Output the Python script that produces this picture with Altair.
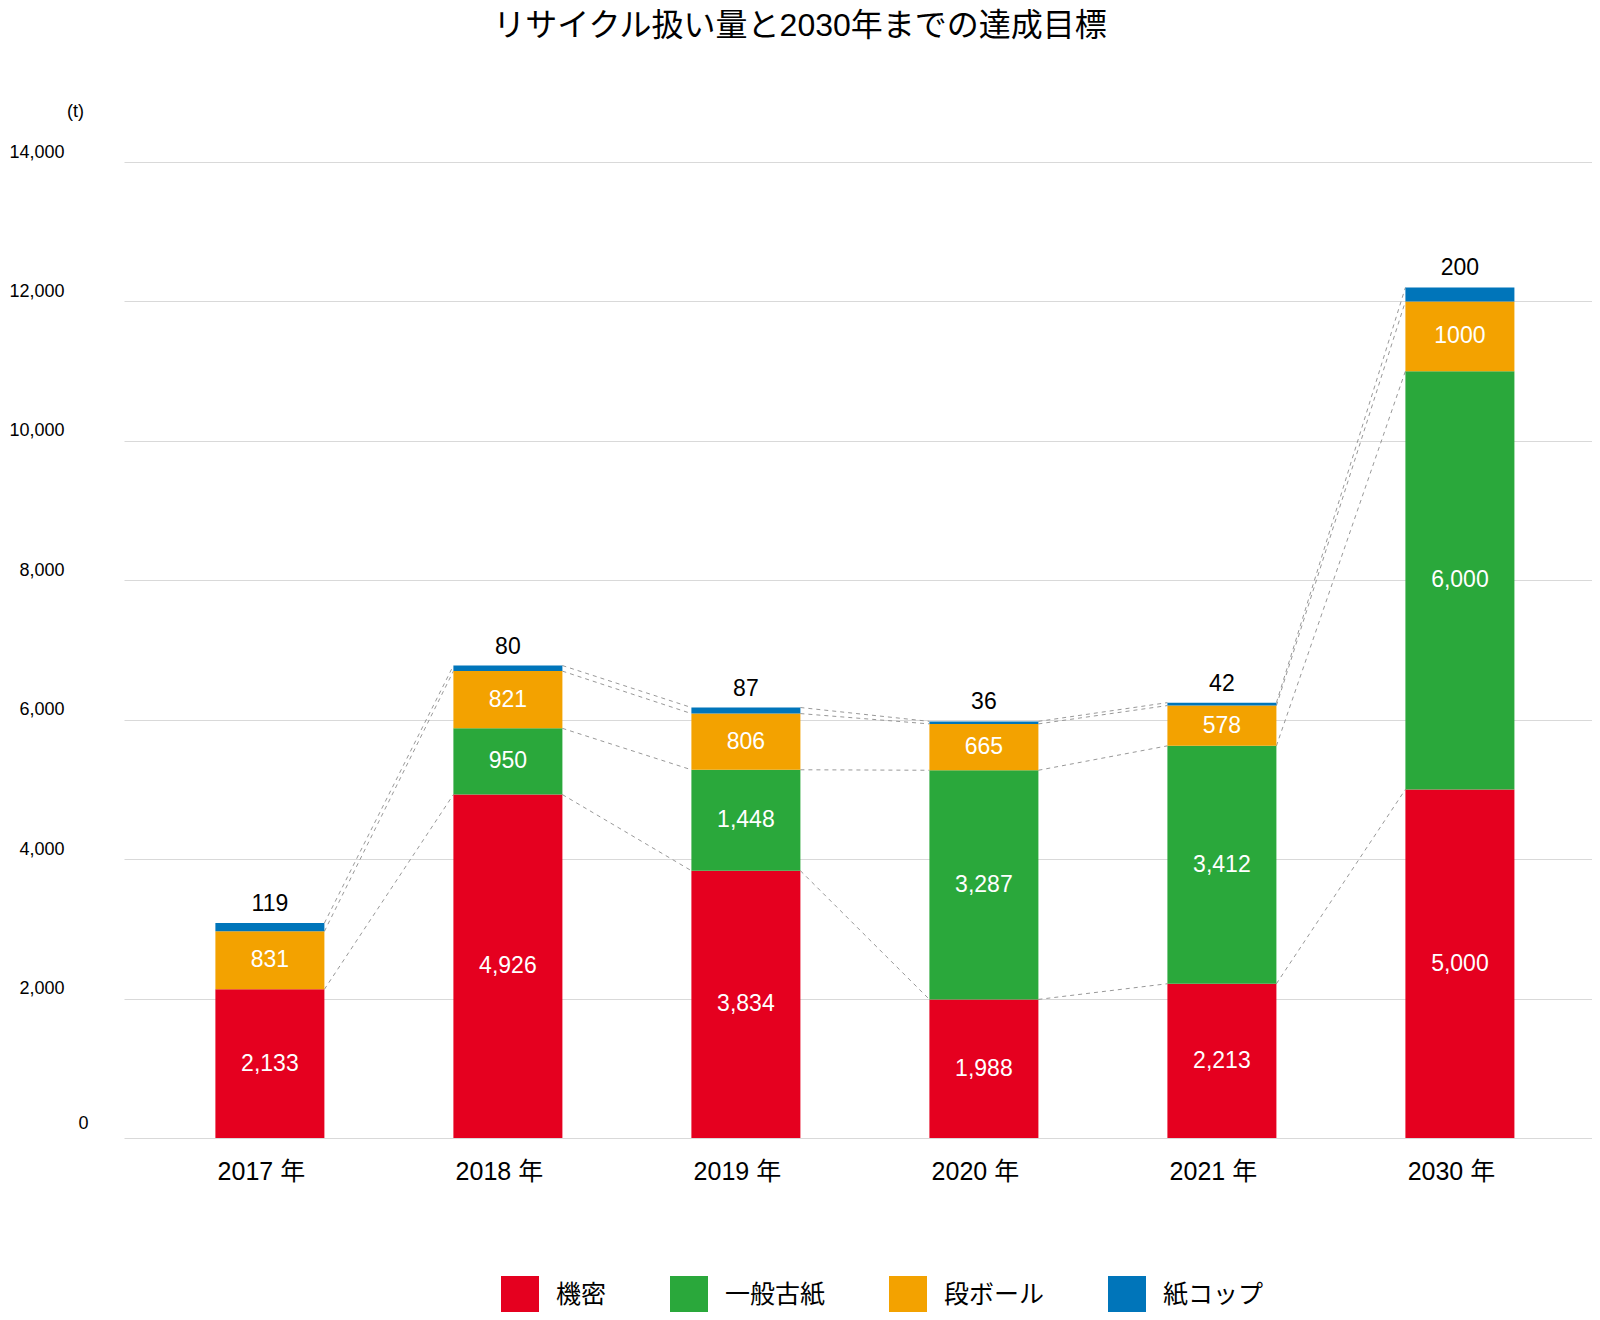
import altair as alt
import pandas as pd

# ---- data ----
years = ["2017 年", "2018 年", "2019 年", "2020 年", "2021 年", "2030 年"]
series = ["機密", "一般古紙", "段ボール", "紙コップ"]
colors = ["#e5001f", "#2aa83b", "#f3a200", "#0075ba"]
kimitsu = [2133, 4926, 3834, 1988, 2213, 5000]
ippan = [0, 950, 1448, 3287, 3412, 6000]
danball = [831, 821, 806, 665, 578, 1000]
cup = [119, 80, 87, 36, 42, 200]
y_ticks = [0, 2000, 4000, 6000, 8000, 10000, 12000, 14000]
label_override = {("2030 年", "段ボール"): "1000"}

FONT = "'Liberation Sans', 'Noto Sans CJK JP', sans-serif"
HW = 0.229  # half bar width in category units

values = [kimitsu, ippan, danball, cup]
rows = []
for i, yr in enumerate(years):
    lo = 0
    for s, vals in zip(series, values):
        v = vals[i]
        rows.append(dict(year=yr, pos=i, series=s, lo=lo, hi=lo + v, mid=lo + v / 2,
                         value=v, text=label_override.get((yr, s), f"{v:,}"),
                         x0=i - HW, x1=i + HW))
        lo += v
seg = pd.DataFrame(rows)
bars_df = seg[seg.value > 0]
inside_df = bars_df[bars_df.series != "紙コップ"]
top_df = bars_df[bars_df.series == "紙コップ"]

links = []
for i in range(len(years) - 1):
    for s in series:
        a = seg[(seg.pos == i) & (seg.series == s)].iloc[0]
        b = seg[(seg.pos == i + 1) & (seg.series == s)].iloc[0]
        if a.value > 0 and b.value > 0:
            links.append(dict(x0=i + HW, x1=i + 1 - HW, lo=a.hi, hi=b.hi))
links_df = pd.DataFrame(links)

xscale = alt.Scale(domain=[-0.613, 5.555], nice=False, zero=False)
yscale = alt.Scale(domain=[0, 14000], nice=False)
label_expr = "[" + ",".join(f"'{y}'" for y in years) + "][datum.value]"

xaxis = alt.Axis(values=list(range(len(years))), labelExpr=label_expr, grid=False,
                 domain=False, ticks=False, labelFontSize=25, labelPadding=21,
                 labelOffset=-9, labelFont=FONT, labelColor="black")
yaxis = alt.Axis(values=y_ticks, format=",d", domain=False, ticks=False,
                 gridColor="#d9d9d9", gridWidth=1, labelFontSize=18,
                 labelPadding={"condition": {"test": "datum.value == 0", "value": 36}, "value": 60},
                 labelOffset={"condition": {"test": "datum.value == 0", "value": -15}, "value": -10},
                 labelFont=FONT, labelColor="black",
                 titleAngle=0, titleX=-49, titleY=-51, titleFontSize=18,
                 titleFontWeight="normal", titleFont=FONT, titleAlign="center",
                 titleBaseline="middle", titleColor="black")


def X(field):
    return alt.X(field, scale=xscale, axis=xaxis, title="")


def Y(field):
    return alt.Y(field, scale=yscale, axis=yaxis, title="(t)")


bars = alt.Chart(bars_df).mark_bar(strokeWidth=0).encode(
    x=X("x0:Q"),
    x2="x1:Q",
    y=Y("lo:Q"),
    y2="hi:Q",
    color=alt.Color("series:N", scale=alt.Scale(domain=series, range=colors), title=None,
                    legend=alt.Legend(orient="none", legendX=377, legendY=1114,
                                      direction="horizontal", symbolType="square",
                                      symbolSize=1444, symbolStrokeWidth=0, symbolOpacity=1,
                                      labelFontSize=25, labelOffset=17, columnPadding=63,
                                      labelFont=FONT, labelColor="black")),
)

rules = alt.Chart(links_df).mark_rule(color="#8c8c8c", strokeWidth=0.9, strokeDash=[4, 4]).encode(
    x=X("x0:Q"),
    x2="x1:Q",
    y=Y("lo:Q"),
    y2="hi:Q",
)

inside = alt.Chart(inside_df).mark_text(color="white", fontSize=23, font=FONT,
                                        baseline="middle", align="center").encode(
    x=X("pos:Q"),
    y=Y("mid:Q"),
    text="text:N",
)

top = alt.Chart(top_df).mark_text(color="black", fontSize=23, font=FONT,
                                  baseline="bottom", align="center", dy=-7).encode(
    x=X("pos:Q"),
    y=Y("hi:Q"),
    text="text:N",
)

chart = alt.layer(rules, bars, inside, top).properties(
    width=1468,
    height=976,
    autosize=alt.AutoSizeParams(type="none"),
    padding={"left": 116, "top": 154, "right": 0, "bottom": 174},
    title=alt.TitleParams(text="リサイクル扱い量と2030年までの達成目標", fontSize=32,
                          fontWeight="normal", anchor="middle", frame="group", dx=-58,
                          offset=44, baseline="middle", font=FONT, color="black"),
).configure(background="white").configure_view(stroke=None)

chart.save("out.html", embed_options={"renderer": "svg", "actions": False})
